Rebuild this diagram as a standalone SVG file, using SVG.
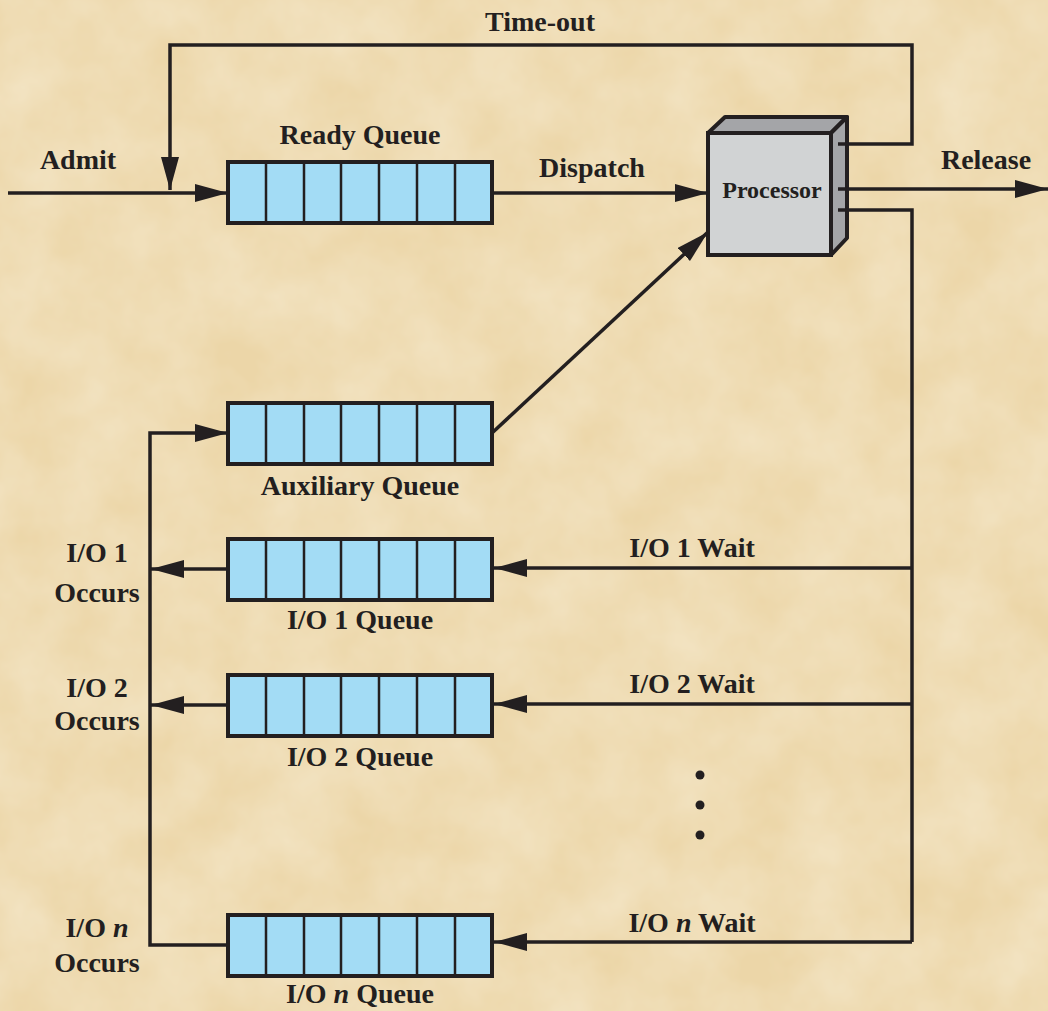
<svg xmlns="http://www.w3.org/2000/svg" xmlns:xlink="http://www.w3.org/1999/xlink" width="1048" height="1011" viewBox="0 0 1048 1011">
<style>
.lbl{font-family:"Liberation Serif","Times New Roman",serif;font-weight:bold;font-size:28px;fill:#231f20;text-anchor:middle}
.ln{fill:none;stroke:#231f20;stroke-width:3.5}
.arr{marker-end:url(#ah)}
</style>
<defs>
<filter id="tex" x="0" y="0" width="100%" height="100%">
<feTurbulence type="fractalNoise" baseFrequency="0.015" numOctaves="4" seed="3"/>
<feColorMatrix type="matrix" values="0 0 0 0 0.96  0 0 0 0 0.90  0 0 0 0 0.76  0 0 0 0.6 -0.1"/>
</filter>
<marker id="ah" markerUnits="userSpaceOnUse" markerWidth="34" markerHeight="20" refX="33" refY="9" orient="auto">
<path d="M0,0 L33,9 L0,18 z" fill="#231f20"/>
</marker>
<g id="q">
<rect x="0" y="0" width="264" height="61" fill="#a3dcf5" stroke="#231f20" stroke-width="4"/>
<path d="M38,0V61M76,0V61M113,0V61M151,0V61M189,0V61M227,0V61" stroke="#231f20" stroke-width="2.5"/>
</g>
</defs>
<rect width="1048" height="1011" fill="#ecd6a8"/>
<rect width="1048" height="1011" fill="#ecd6a8" filter="url(#tex)"/>

<g id="processor">
<path d="M708,133 L725,117 H847 L831,133 Z" fill="#a4a5a8" stroke="#231f20" stroke-width="4" stroke-linejoin="round"/>
<path d="M831,133 L847,117 V238 L831,255 Z" fill="#a4a5a8" stroke="#231f20" stroke-width="4" stroke-linejoin="round"/>
<rect x="708" y="133" width="123" height="122" fill="#d1d3d4" stroke="#231f20" stroke-width="4"/>
<text class="lbl" x="772" y="198" style="font-size:24px">Processor</text>
</g>

<g id="connectors">
<path class="ln" d="M838,144 H912 V45 H170 V190" marker-end="url(#ah)"/>
<path class="ln arr" d="M8,193 H228"/>
<path class="ln arr" d="M492,193 H708"/>
<path class="ln arr" d="M838,189 H1048"/>
<path class="ln arr" d="M492,433 L708,232"/>
<path class="ln" d="M838,210 H912 V942"/>
<path class="ln arr" d="M912,568 H494"/>
<path class="ln arr" d="M912,704 H494"/>
<path class="ln arr" d="M912,942 H494"/>
<path class="ln arr" d="M228,569 H151"/>
<path class="ln arr" d="M228,705 H151"/>
<path class="ln arr" d="M228,945 H150 V433 H228"/>
<circle cx="700" cy="775" r="4.5" fill="#231f20"/>
<circle cx="700" cy="805" r="4.5" fill="#231f20"/>
<circle cx="700" cy="835" r="4.5" fill="#231f20"/>
</g>

<g id="ready-queue">
<use xlink:href="#q" x="228" y="162"/>
<text class="lbl" x="360" y="144">Ready Queue</text>
</g>
<g id="auxiliary-queue">
<use xlink:href="#q" x="228" y="403"/>
<text class="lbl" x="360" y="495">Auxiliary Queue</text>
</g>
<g id="io1-queue">
<use xlink:href="#q" x="228" y="539"/>
<text class="lbl" x="360" y="629">I/O 1 Queue</text>
</g>
<g id="io2-queue">
<use xlink:href="#q" x="228" y="675"/>
<text class="lbl" x="360" y="766">I/O 2 Queue</text>
</g>
<g id="ion-queue">
<use xlink:href="#q" x="228" y="915"/>
<text class="lbl" x="360" y="1003">I/O <tspan font-style="italic">n</tspan> Queue</text>
</g>

<g id="labels">
<text class="lbl" x="540" y="31">Time-out</text>
<text class="lbl" x="78" y="169">Admit</text>
<text class="lbl" x="592" y="177">Dispatch</text>
<text class="lbl" x="986" y="169">Release</text>
<text class="lbl" x="97" y="562">I/O 1</text>
<text class="lbl" x="97" y="602">Occurs</text>
<text class="lbl" x="97" y="697">I/O 2</text>
<text class="lbl" x="97" y="730">Occurs</text>
<text class="lbl" x="97" y="937">I/O <tspan font-style="italic">n</tspan></text>
<text class="lbl" x="97" y="972">Occurs</text>
<text class="lbl" x="692" y="557">I/O 1 Wait</text>
<text class="lbl" x="692" y="693">I/O 2 Wait</text>
<text class="lbl" x="692" y="932">I/O <tspan font-style="italic">n</tspan> Wait</text>
</g>
</svg>
